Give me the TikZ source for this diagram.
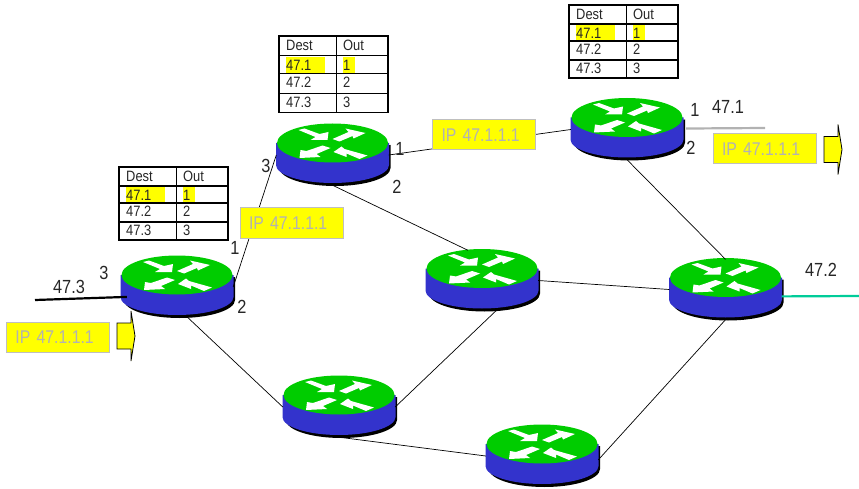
\documentclass[tikz,border=0pt]{standalone}
\usepackage{fontspec}
\setmainfont{Liberation Sans}[FakeStretch=0.86]
\usetikzlibrary{arrows.meta,positioning,calc}

\definecolor{routergreen}{RGB}{0,204,0}
\definecolor{routerblue}{RGB}{51,51,204}
\definecolor{linkteal}{RGB}{0,204,153}
\definecolor{pktyellow}{RGB}{255,255,0}

\tikzset{
    portlabel/.style={font=\fontsize{19}{19}\selectfont, text=black!85, inner sep=0pt},
    cell/.style={font=\fontsize{15}{15}\selectfont, text=black!85, anchor=west, inner sep=0pt},
    packet/.style={draw=black!25, line width=1pt, fill=pktyellow, text=black!30, align=left,
        font=\fontsize{18.4}{19}\selectfont, text width=85pt, inner xsep=9pt, minimum height=30pt},
    routerbox/.style={minimum width=112pt, minimum height=60pt, inner sep=0pt},
    link/.style={black, line width=0.7pt},
    router/.pic={
        \fill[black] (-53,3) -- (-53,25) arc[start angle=180, end angle=0, x radius=55.5, y radius=18] -- (58,2) -- cycle;
        \fill[routerblue] (-56.5,0) -- (-56.5,22) arc[start angle=180, end angle=0, x radius=56.5, y radius=18] -- (56.5,0) -- cycle;
        \fill[routergreen] (0,0) ellipse [x radius=55.5, y radius=19.5];
        \fill[white] (-34,-13) -- (-28,-14.5) -- (-13,-9) -- (-4,-11) -- (-5,-3) -- (-22,-3) -- (-17,-6) -- cycle;
        \fill[white] (0,-4) -- (16,-11) -- (13,-14.5) -- (33,-10) -- (21,-4.5) -- (20,-7) -- (7,-1.5) -- cycle;
        \fill[white] (-2,5) -- (-16,11) -- (-12,14) -- (-33,15) -- (-32,7) -- (-26,8) -- (-10,2.5) -- cycle;
        \fill[white] (1,9) -- (9,3.5) -- (12,6) -- (35,12.5) -- (27,16) -- (14,10.5) -- (14,14) -- cycle;
    },
    pointer/.pic={
        \draw[black, fill=pktyellow, line width=0.8pt] (0,-13) -- (14,-13) -- (14,-25) -- (18,0) -- (14,25) -- (14,13) -- (0,13) -- cycle;
    },
    rtable/.pic={
        \fill[pktyellow] (7,20) rectangle (46,35);
        \fill[pktyellow] (64,20) rectangle (76,35);
        \draw[black, line width=1.1pt] (0,0) rectangle (109,73);
        \draw[black, line width=1.1pt] (57.5,0) -- (57.5,73);
        \draw[black, line width=1.1pt] (0,19) -- (109,19);
        \draw[black, line width=1.1pt] (0,36) -- (109,36);
        \draw[black, line width=1.1pt] (0,55) -- (109,55);
        \node[cell] (-dest) at (7,9) {Dest};
        \node[cell] (-out) at (64,9) {Out};
        \node[cell] (-a) at (7,28) {47.1};
        \node[cell] (-ap) at (64,28) {1};
        \node[cell] (-b) at (7,44) {47.2};
        \node[cell] (-bp) at (64,44) {2};
        \node[cell] (-c) at (7,63) {47.3};
        \node[cell] (-cp) at (64,63) {3};
    }
}

\begin{document}
\begin{tikzpicture}[x=1pt, y=-1pt]
    \useasboundingbox (0,0) rectangle (859,489);

    % Routers
    \foreach \rname/\rx/\ry in {r1/177/275, r2/332.5/143, r3/627/117.5, r4/482/268.5, r5/725.5/277.5, r6/339/395, r7/542/444} {
        \pic at (\rx,\ry) {router};
        \node[routerbox] (\rname) at (\rx,\ry+12) {};
    }

    % Links
    \draw[link] (r1.east) -- (r2.west);
    \draw[link] (r2.east) -- (r3.west);
    \draw[link] (r2.south) -- (r4.115);
    \draw[link] (r3.south) -- (r5.north);
    \draw[link] (r4.east) -- (r5.west);
    \draw[link] (r4.-65) -- (r6.east);
    \draw[link] (r1.-71) -- (r6.west);
    \draw[link] (r6.south) -- (r7.west);
    \draw[link] (r7.-4) -- (r5.south);

    % Stub networks
    \coordinate (net3) at (35,300);
    \coordinate (net1) at (765,128);
    \coordinate (net2) at (859,296);
    \draw[black, line width=2.2pt] (net3) -- ([xshift=6pt]r1.190);
    \draw[black!30, line width=2.2pt] ([xshift=3pt]r3.1) -- (net1);
    \draw[linkteal, line width=2.2pt] (r5.-7) -- (net2);

    % Tables
    \pic (t1) at (119,167) {rtable};
    \pic[yscale=1.05] (t2) at (279,36) {rtable};
    \pic (t3) at (569,5) {rtable};

    % Packets
    \node[packet] (pkt1) at (58,337) {IP 47.1.1.1};
    \node[packet] (pkt2) at (291.5,223) {IP 47.1.1.1};
    \node[packet] (pkt3) at (484,135) {IP 47.1.1.1};
    \node[packet] (pkt4) at (764.5,149) {IP 47.1.1.1};
    \pic at (117,336) {pointer};
    \pic at (824,149.5) {pointer};

    % Port labels
    \node[portlabel] (l1) at (104,273) {3};
    \node[portlabel] (l2) at (69,287) {47.3};
    \node[portlabel] (l3) at (235,248) {1};
    \node[portlabel] (l4) at (242,307) {2};
    \node[portlabel] (l5) at (266,166) {3};
    \node[portlabel] (l6) at (400,149) {1};
    \node[portlabel] (l7) at (397,187) {2};
    \node[portlabel] (l8) at (695,110) {1};
    \node[portlabel] (l9) at (728,107) {47.1};
    \node[portlabel] (l10) at (691,148) {2};
    \node[portlabel] (l11) at (821,270) {47.2};
\end{tikzpicture}
\end{document}
